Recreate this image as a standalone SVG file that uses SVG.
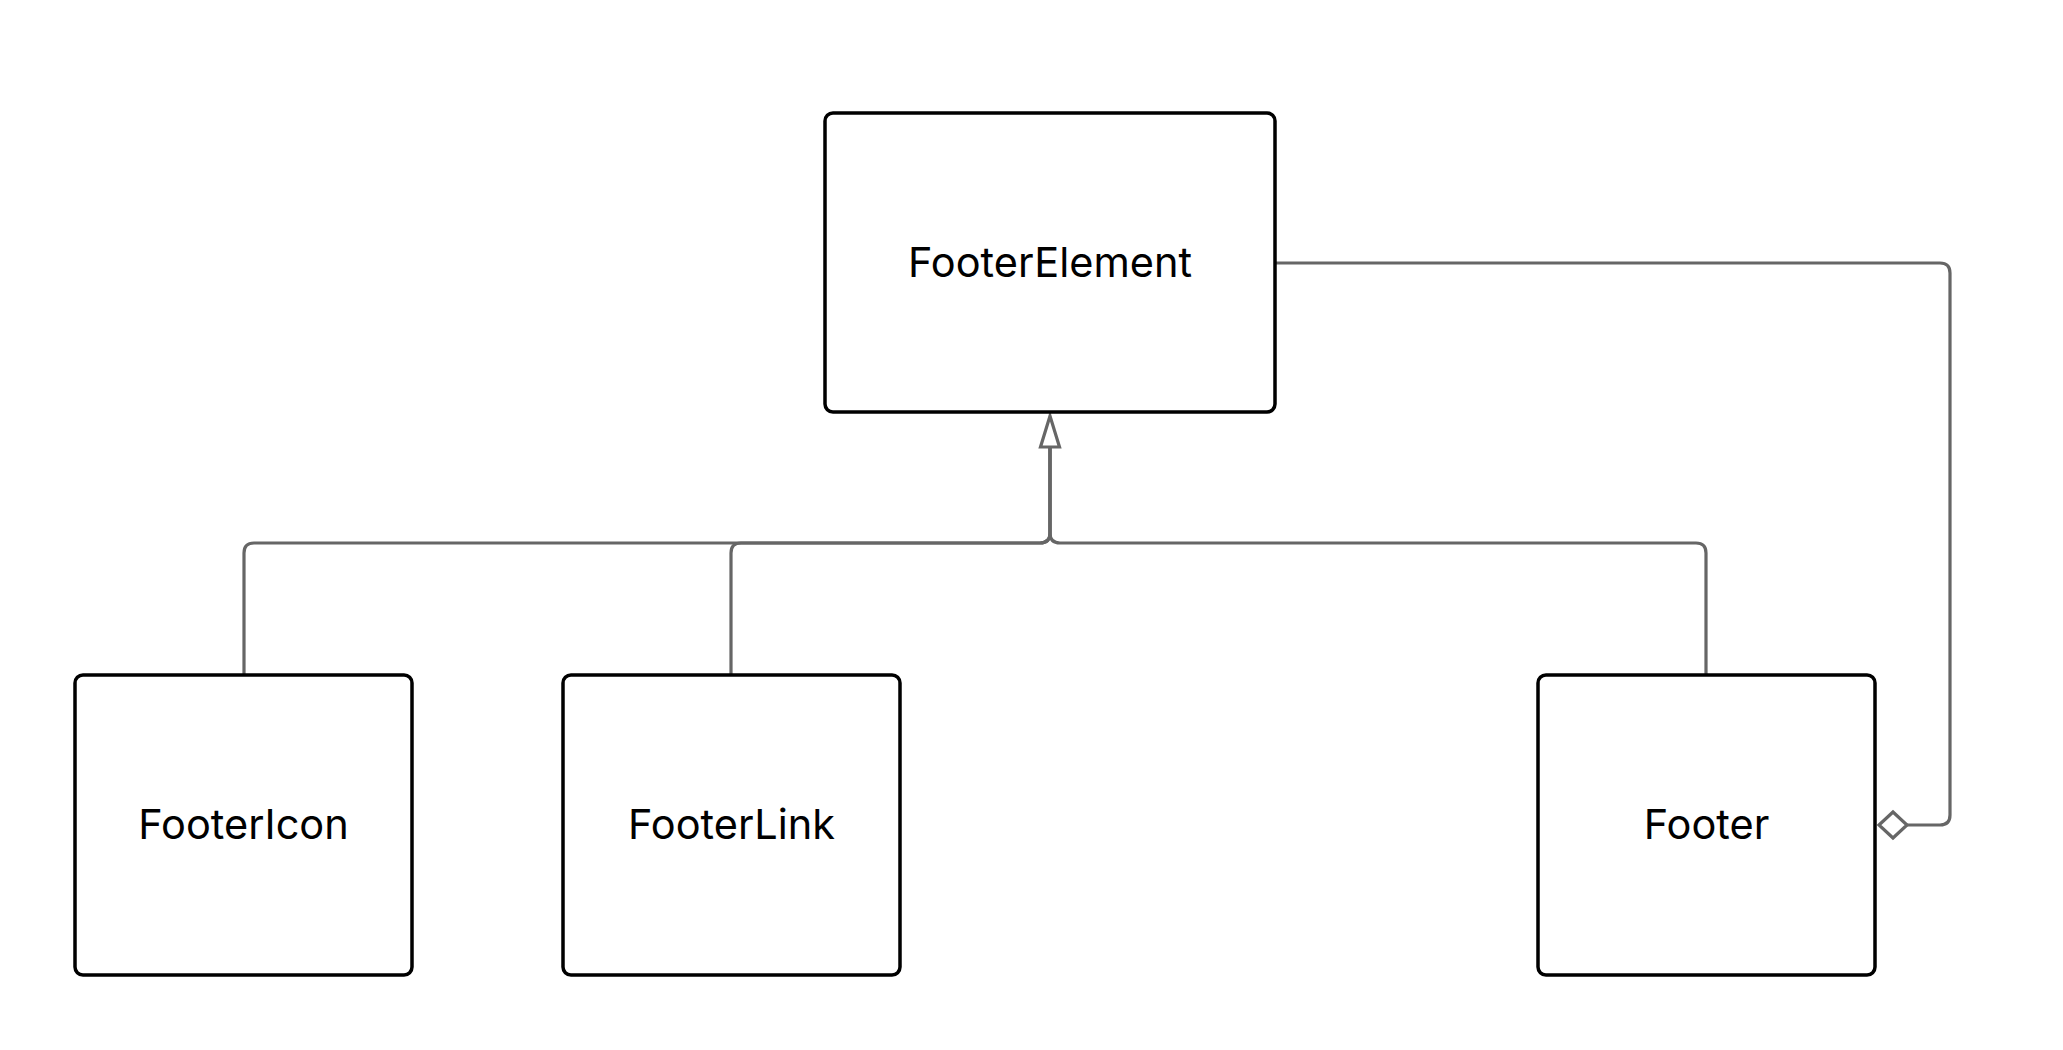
<svg xmlns="http://www.w3.org/2000/svg" width="2063" height="1050" viewBox="0 0 2063 1050">
<style>
.box{fill:#fff;stroke:#000;stroke-width:3.5}
.lbl{font-family:Inter,"Liberation Sans",sans-serif;font-size:41.5px;fill:#000;text-anchor:middle}
.edge{fill:none;stroke:#666;stroke-width:3.2}
.head{fill:#fff;stroke:#666;stroke-width:3.2}
</style>
<rect width="2063" height="1050" fill="#fff"/>
<g id="connectors">
<path class="edge" d="M244 675 L244 553 Q244 543 254 543 L1040 543 Q1050 543 1050 533 L1050 447"/>
<path class="edge" d="M731 675 L731 553 Q731 543 741 543 L1040 543 Q1050 543 1050 533 L1050 447"/>
<path class="edge" d="M1706 675 L1706 553 Q1706 543 1696 543 L1060 543 Q1050 543 1050 533 L1050 447"/>
<polygon class="head" points="1050,416 1059.5,447 1040.5,447"/>
<path class="edge" d="M1276 263 L1940 263 Q1950 263 1950 273 L1950 815 Q1950 825 1940 825 L1907 825"/>
<polygon class="head" points="1879,825 1893,812 1907,825 1893,838"/>
</g>
<g id="FooterElement">
<rect class="box" x="825" y="113" width="450" height="299" rx="8"/>
<text class="lbl" x="1050" y="277">FooterElement</text>
</g>
<g id="FooterIcon">
<rect class="box" x="75" y="675" width="337" height="300" rx="8"/>
<text class="lbl" x="243.5" y="839">FooterIcon</text>
</g>
<g id="FooterLink">
<rect class="box" x="563" y="675" width="337" height="300" rx="8"/>
<text class="lbl" x="731.5" y="839">FooterLink</text>
</g>
<g id="Footer">
<rect class="box" x="1538" y="675" width="337" height="300" rx="8"/>
<text class="lbl" x="1706.5" y="839">Footer</text>
</g>
</svg>
